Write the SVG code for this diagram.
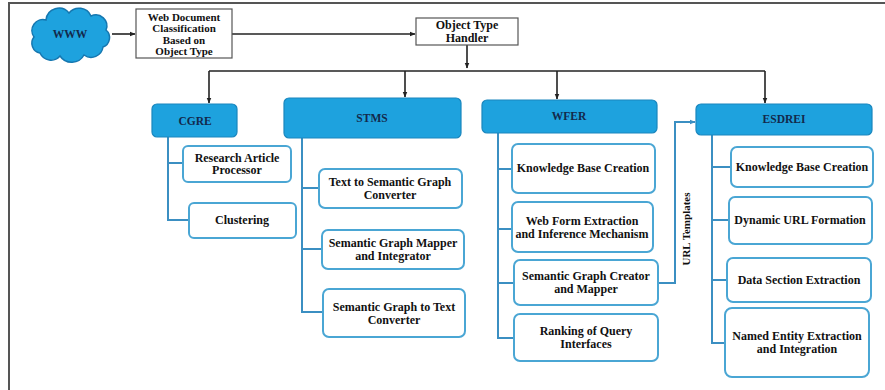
<svg xmlns="http://www.w3.org/2000/svg" width="885" height="390" viewBox="0 0 885 390">
  <style>
    .frame { stroke: #555; stroke-width: 2; fill: none; }
    .plain { fill: #fff; stroke: #555; stroke-width: 1.2; }
    .head { fill: #1ea2de; stroke: #1a86bd; stroke-width: 1.2; }
    .child { fill: #fff; stroke: #4aa6d4; stroke-width: 2; }
    .wire { stroke: #222; stroke-width: 1.6; fill: none; }
    .tree { stroke: #3b8fc2; stroke-width: 2; fill: none; }
    text { font-weight: bold; text-anchor: middle; }
    .t { font-size: 12px; fill: #111; }
    .h { font-size: 11.5px; fill: #13294b; }
  </style>
  <defs>
    <marker id="arr" viewBox="0 0 10 10" refX="9" refY="5" markerWidth="6" markerHeight="6" orient="auto" markerUnits="userSpaceOnUse">
      <path d="M0,1 L10,5 L0,9 z" fill="#222"/>
    </marker>
    <marker id="arrb" viewBox="0 0 10 10" refX="9" refY="5" markerWidth="6" markerHeight="6" orient="auto" markerUnits="userSpaceOnUse">
      <path d="M0,1 L10,5 L0,9 z" fill="#3b8fc2"/>
    </marker>
  </defs>

  <rect width="885" height="390" fill="#fff"/>
  <path class="frame" d="M9,390 V3 H885"/>

  <g font-family="'Liberation Serif', 'DejaVu Serif', serif">
  <g id="connectors">
    <path class="wire" d="M112,34 H135" marker-end="url(#arr)"/>
    <path class="wire" d="M232,34 H415" marker-end="url(#arr)"/>
    <path class="wire" d="M467,45 V68" marker-end="url(#arr)"/>
    <path class="wire" d="M209,71 H765"/>
    <path class="wire" d="M209,71 V103" marker-end="url(#arr)"/>
    <path class="wire" d="M405,71 V97" marker-end="url(#arr)"/>
    <path class="wire" d="M557,71 V99" marker-end="url(#arr)"/>
    <path class="wire" d="M765,71 V103" marker-end="url(#arr)"/>

    <path class="tree" d="M168,137 V220 H189 M168,163 H183"/>
    <path class="tree" d="M302,138 V312 H323 M302,188 H319 M302,249 H322"/>
    <path class="tree" d="M498,133 V338 H514 M498,169 H512 M498,229 H512 M498,283 H514"/>
    <path class="tree" d="M712,135 V343 H725 M712,167 H731 M712,220 H729 M712,280 H727"/>
    <path class="tree" d="M658,283 H675 V122 H695" marker-end="url(#arrb)"/>
    <text class="t" transform="translate(690,229) rotate(-90)" style="font-size:11px">URL Templates</text>
  </g>

  <g id="www">
    <path d="M40,53 a10,10 0 0 1 -6,-16 a11,11 0 0 1 12,-17 a13,13 0 0 1 23,-7 a13,13 0 0 1 22,3 a11,11 0 0 1 15,14 a10,10 0 0 1 -3,17 a12,12 0 0 1 -19,8 a14,14 0 0 1 -24,1 a12,12 0 0 1 -20,-3 z" fill="#1ea2de" stroke="#1577b0" stroke-width="1.5"/>
    <text class="h" x="70" y="38">WWW</text>
  </g>

  <g id="classification">
    <rect class="plain" x="136" y="9" width="96" height="49"/>
    <text class="t" style="font-size:11px"><tspan x="184" y="20.5">Web Document</tspan><tspan x="184" y="32">Classification</tspan><tspan x="184" y="43.5">Based on</tspan><tspan x="184" y="55">Object Type</tspan></text>
  </g>

  <g id="handler">
    <rect class="plain" x="416" y="18" width="102" height="27"/>
    <text class="t"><tspan x="467" y="29">Object Type</tspan><tspan x="467" y="41.5">Handler</tspan></text>
  </g>

  <g id="cgre">
    <rect class="head" x="152" y="104" width="85" height="33" rx="5"/>
    <text class="h" x="195" y="125">CGRE</text>
  </g>
  <g id="cgre-research">
    <rect class="child" x="183" y="146" width="108" height="36" rx="5"/>
    <text class="t"><tspan x="237" y="161.5">Research Article</tspan><tspan x="237" y="174">Processor</tspan></text>
  </g>
  <g id="cgre-clustering">
    <rect class="child" x="189" y="203" width="107" height="35" rx="5"/>
    <text class="t" x="242" y="224">Clustering</text>
  </g>

  <g id="stms">
    <rect class="head" x="284" y="98" width="177" height="40" rx="5"/>
    <text class="h" x="372" y="122">STMS</text>
  </g>
  <g id="stms-text2graph">
    <rect class="child" x="319" y="169" width="143" height="39" rx="6"/>
    <text class="t"><tspan x="390" y="186">Text to Semantic Graph</tspan><tspan x="390" y="198.5">Converter</tspan></text>
  </g>
  <g id="stms-mapper">
    <rect class="child" x="322" y="230" width="142" height="39" rx="6"/>
    <text class="t"><tspan x="393" y="247">Semantic Graph Mapper</tspan><tspan x="393" y="259.5">and Integrator</tspan></text>
  </g>
  <g id="stms-graph2text">
    <rect class="child" x="323" y="289" width="142" height="48" rx="6"/>
    <text class="t"><tspan x="394" y="311">Semantic Graph to Text</tspan><tspan x="394" y="323.5">Converter</tspan></text>
  </g>

  <g id="wfer">
    <rect class="head" x="482" y="100" width="175" height="33" rx="5"/>
    <text class="h" x="569" y="120">WFER</text>
  </g>
  <g id="wfer-kb">
    <rect class="child" x="512" y="144" width="143" height="49" rx="6"/>
    <text class="t" x="583" y="172">Knowledge Base Creation</text>
  </g>
  <g id="wfer-webform">
    <rect class="child" x="512" y="202" width="141" height="50" rx="6"/>
    <text class="t"><tspan x="582" y="225">Web Form Extraction</tspan><tspan x="582" y="237.5">and Inference Mechanism</tspan></text>
  </g>
  <g id="wfer-creator">
    <rect class="child" x="514" y="260" width="144" height="45" rx="6"/>
    <text class="t"><tspan x="586" y="280">Semantic Graph Creator</tspan><tspan x="586" y="292.5">and Mapper</tspan></text>
  </g>
  <g id="wfer-ranking">
    <rect class="child" x="514" y="314" width="144" height="47" rx="6"/>
    <text class="t"><tspan x="586" y="335">Ranking of Query</tspan><tspan x="586" y="347.5">Interfaces</tspan></text>
  </g>

  <g id="esdrei">
    <rect class="head" x="696" y="104" width="176" height="31" rx="5"/>
    <text class="h" x="784" y="123">ESDREI</text>
  </g>
  <g id="esdrei-kb">
    <rect class="child" x="731" y="147" width="142" height="40" rx="6"/>
    <text class="t" x="802" y="171">Knowledge Base Creation</text>
  </g>
  <g id="esdrei-url">
    <rect class="child" x="729" y="197" width="143" height="47" rx="6"/>
    <text class="t" x="800" y="224">Dynamic URL Formation</text>
  </g>
  <g id="esdrei-data">
    <rect class="child" x="727" y="258" width="144" height="44" rx="6"/>
    <text class="t" x="799" y="284">Data Section Extraction</text>
  </g>
  <g id="esdrei-ner">
    <rect class="child" x="725" y="308" width="144" height="69" rx="7"/>
    <text class="t"><tspan x="797" y="340">Named Entity Extraction</tspan><tspan x="797" y="352.5">and Integration</tspan></text>
  </g>
  </g>
</svg>
